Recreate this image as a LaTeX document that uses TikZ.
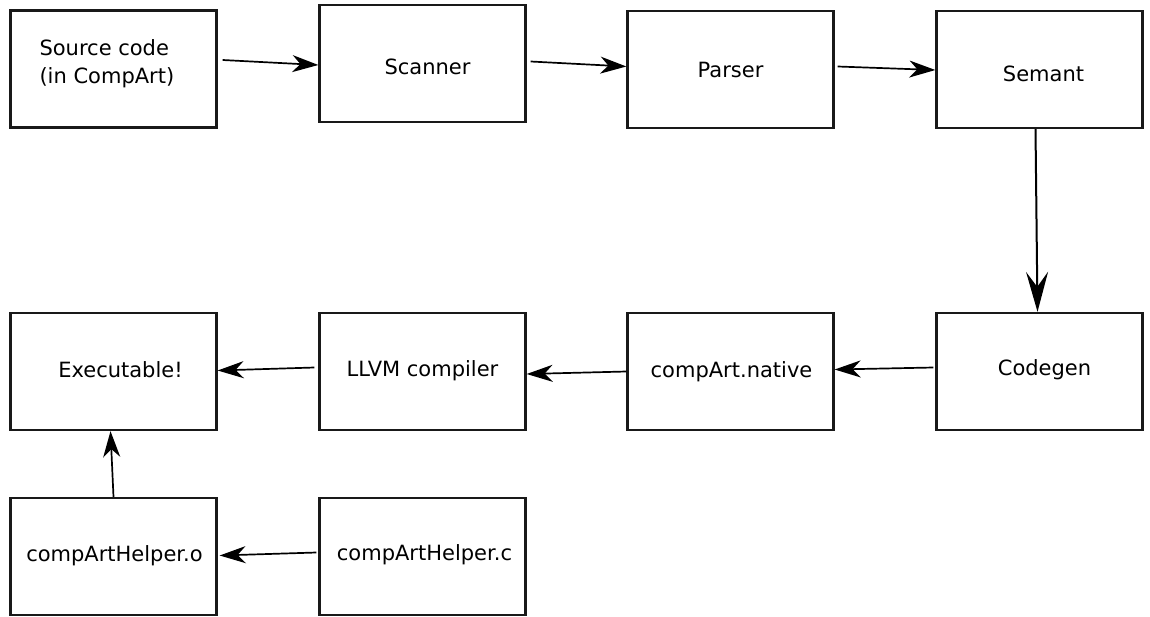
\documentclass[tikz,border=0pt]{standalone}
\usepackage{fontspec}
\setmainfont{DejaVu Sans}
\usetikzlibrary{arrows.meta,calc}
\begin{document}
\begin{tikzpicture}[x=1pt,y=-1pt,
  box/.style={draw=black!90,line width=2.3pt,rectangle,minimum width=206pt,minimum height=117pt,inner sep=0pt},
  txt/.style={inner sep=0pt,font=\fontsize{21}{28}\selectfont,align=center},
  arr/.style={line width=1.7pt,-{Stealth[length=26pt,width=17pt,inset=8pt]}},
  bigarr/.style={line width=2pt,-{Stealth[length=40pt,width=22pt,inset=15pt]}}]
\useasboundingbox (0,0) rectangle (1150,616);
% boxes
\node[box] (src) at (113.5,69) {};
\node[box] (scan) at (422.5,63.5) {};
\node[box] (pars) at (730.5,69.5) {};
\node[box] (sem) at (1039.5,69.5) {};
\node[box] (cg) at (1039.5,371.5) {};
\node[box] (nat) at (730.5,371.5) {};
\node[box] (llvm) at (422.5,371.5) {};
\node[box] (exe) at (113.5,371.5) {};
\node[box] (ho) at (113.5,556.5) {};
\node[box] (hc) at (422.5,556.5) {};
% texts
\node[txt,align=left,anchor=west] (srct) at ($(src.west)+(30,-5)$) {Source code\\(in CompArt)};
\node[txt] (scant) at ($(scan.center)+(5,3)$) {Scanner};
\node[txt] (parst) at ($(pars.center)+(0,0)$) {Parser};
\node[txt] (semt) at ($(sem.center)+(4,4)$) {Semant};
\node[txt] (cgt) at ($(cg.center)+(5,-2)$) {Codegen};
\node[txt] (natt) at ($(nat.center)+(1,0)$) {compArt.native};
\node[txt] (llvmt) at ($(llvm.center)+(0,-1)$) {LLVM compiler};
\node[txt] (exet) at ($(exe.center)+(7,-2)$) {Executable!};
\node[txt] (hot) at ($(ho.center)+(1,-1)$) {compArtHelper.o};
\node[txt] (hct) at ($(hc.center)+(2,-2)$) {compArtHelper.c};
% connectors
\draw[arr] ($(src.east)+(5,-9)$) -- ($(scan.west)+(0,1.5)$);
\draw[arr] ($(scan.east)+(4,-2)$) -- ($(pars.west)+(0,-3)$);
\draw[arr] ($(pars.east)+(3,-3)$) -- ($(sem.west)+(0,0.5)$);
\draw[bigarr] ($(sem.south)+(-4,0)$) -- ($(cg.north)+(-2,0)$);
\draw[arr] ($(cg.west)+(-2,-4)$) -- ($(nat.east)+(0,-2)$);
\draw[arr] ($(nat.west)+(0,0)$) -- ($(llvm.east)+(0,2.5)$);
\draw[arr] ($(llvm.west)+(-4,-4)$) -- ($(exe.east)+(0,-1)$);
\draw[arr] ($(hc.west)+(-2,-4)$) -- ($(ho.east)+(2,-1)$);
\draw[arr] ($(ho.north)+(0,0)$) -- ($(exe.south)+(-3,0)$);
\end{tikzpicture}
\end{document}
